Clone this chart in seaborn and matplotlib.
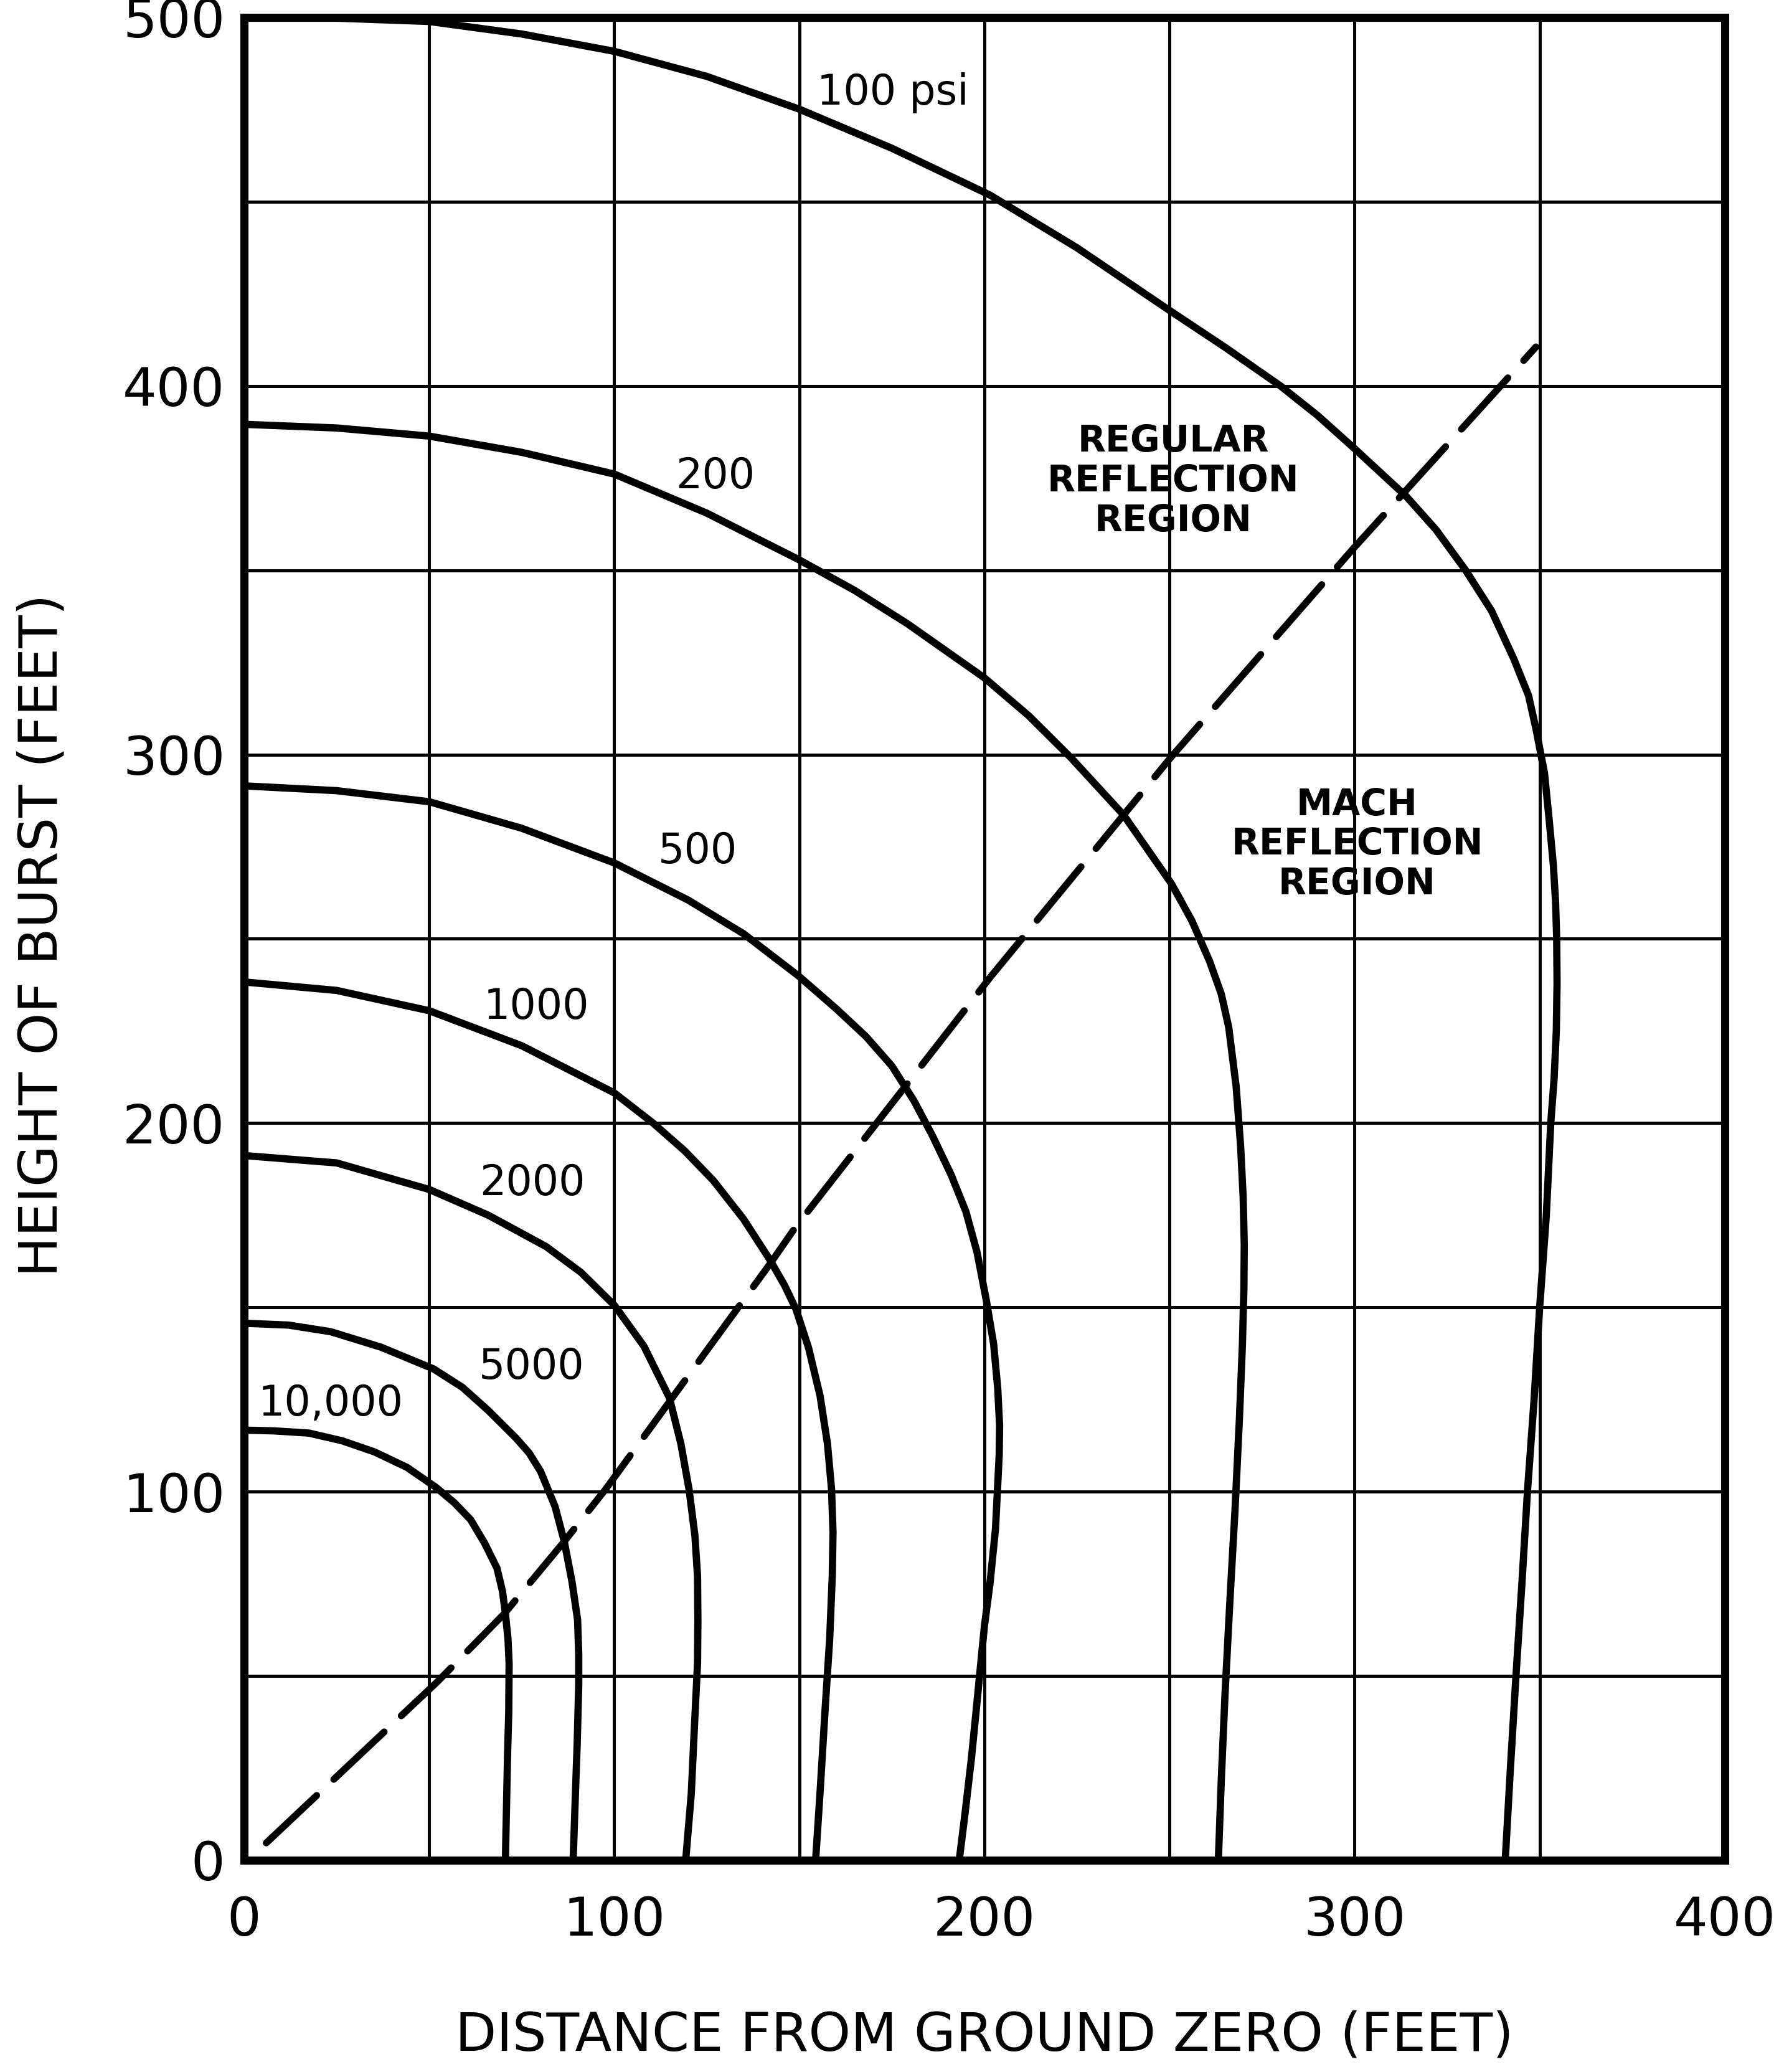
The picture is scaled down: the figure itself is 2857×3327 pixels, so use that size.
import matplotlib
matplotlib.use("Agg")
import matplotlib.pyplot as plt
import seaborn as sns
import pandas as pd

# ---- data ----
psi100_x = [0, 25, 50, 75, 100, 125, 150, 175, 201.5, 225, 250, 265, 280, 290, 300, 314, 322, 330, 337, 343, 347,
            349, 351.3, 352.5, 353.7, 354.3, 354.6, 354.7, 354.5, 353.9, 353, 351.8, 350, 348.5, 346.7, 345.2,
            343.6, 342.1, 340.7]
psi100_y = [500, 499.8, 498.9, 495.5, 490.8, 484, 475.1, 464.5, 451.8, 437.5, 420.5, 410.5, 400, 392, 383, 370, 361,
            350, 339, 326, 316, 307, 295, 283, 270, 260, 250, 238, 225, 212, 200, 175, 150, 125, 100, 75, 50, 25, 0]

psi200_x = [0, 25, 50, 75, 100, 125, 150, 165, 179.2, 200, 212, 223.5, 237.6, 250.5, 256, 260.8, 264, 266, 268, 269.2,
            269.9, 270.2, 270.1, 269.7, 268.9, 267.7, 266.3, 265, 264, 263.2]
psi200_y = [389.6, 388.6, 386.4, 382, 376.1, 365.5, 352.8, 344.5, 335.5, 320.8, 310.5, 299, 283.6, 265, 255, 244, 235,
            226, 210, 194, 180, 167, 155, 140, 120, 95, 70, 45, 22, 0]

psi500_x = [0, 25, 50, 75, 100, 120, 134.9, 149.7, 160, 168, 175, 181, 186, 191, 195, 198, 200.5,
            202.5, 203.6, 204.1, 204, 203, 201.5, 200, 198.2, 196.5, 194.8, 193.2]
psi500_y = [291.5, 290.2, 287.2, 280, 270.6, 260.5, 251.4, 240, 231, 223.5, 215.5, 206, 196.5, 186, 176, 165, 152,
            140, 128, 118, 110, 90, 75, 63.5, 45, 27.7, 13, 0]

psi1000_x = [0, 25, 50, 75, 100, 110.5, 119, 126.7, 134.9, 142, 146, 149.1, 152.5, 155.6, 157.6, 158.7, 159.1, 158.9,
             158.2, 157, 155.7, 154.4]
psi1000_y = [238.3, 236, 230.5, 221, 208.2, 200, 192.5, 184.5, 174, 163, 156, 149.5, 139, 126, 113, 100.7, 89,
             77.1, 60, 41.5, 20, 0]

psi2000_x = [0, 25, 50, 66, 81.6, 91, 100.1, 108, 114.9, 118, 120.2, 121.8, 122.5, 122.6, 122.5, 121.6, 120.8, 119.3]
psi2000_y = [191.2, 189.2, 182, 175, 166.5, 159.5, 150.5, 139.5, 125.5, 113, 100.7, 88, 77.1, 65, 53.4, 35, 17.9, 0]

psi5000_x = [0, 12, 23.4, 37, 51.2, 59, 66, 73.5, 77, 80.1, 84, 86.5, 88.6, 90.1, 90.4, 90.4, 90, 89.5, 88.9]
psi5000_y = [145.7, 145.2, 143.4, 139.2, 133.3, 128.3, 122, 114.5, 110.5, 105.5, 96, 86.5, 75.5, 65.2, 56, 47.5, 32,
             17.7, 0]

psi10000_x = [0, 8, 17.5, 26.5, 35.2, 44, 51.8, 56.8, 61.2, 65, 68.3, 69.8, 70.6, 71.3, 71.6, 71.5, 71.2, 70.9, 70.6]
psi10000_y = [116.7, 116.5, 115.9, 113.8, 110.8, 106.6, 101.2, 97, 92.4, 86, 79.3, 73, 66.9, 60, 53.3, 40, 29.5, 15, 0]

boundary_x = [6, 52.3, 70.3, 86.5, 97.7, 114.9, 142, 149, 201.6, 250.6, 299.4, 349]
boundary_y = [4.7, 48.5, 66.9, 86.5, 100.7, 124.4, 161.7, 171.8, 239.6, 299.5, 355.6, 410.6]

curve_labels = ["100 psi", "200", "500", "1000", "2000", "5000", "10,000"]
curve_label_x = [175.3, 127.3, 122.5, 79.0, 77.8, 77.7, 23.4]
curve_label_y = [479.5, 375.5, 273.8, 231.5, 183.6, 133.9, 123.8]

region_labels = ["REGULAR\nREFLECTION\nREGION", "MACH\nREFLECTION\nREGION"]
region_label_x = [251.0, 300.7]
region_label_y = [374.2, 275.6]

x_ticks = [0, 100, 200, 300, 400]
y_ticks = [0, 100, 200, 300, 400, 500]
x_title = "DISTANCE FROM GROUND ZERO (FEET)"
y_title = "HEIGHT OF BURST (FEET)"

# ---- styling ----
sns.set_theme(style="white")
plt.rcParams['font.family'] = ['DejaVu Sans']

fig = plt.figure(figsize=(2857 / 200, 3327 / 200), dpi=200)
ax = fig.add_axes([0.1372, 0.1022, 0.8323, 0.8894])

curves = [
    (psi100_x, psi100_y), (psi200_x, psi200_y), (psi500_x, psi500_y),
    (psi1000_x, psi1000_y), (psi2000_x, psi2000_y), (psi5000_x, psi5000_y),
    (psi10000_x, psi10000_y),
]
for name, (xs, ys) in zip(curve_labels, curves):
    df = pd.DataFrame({"x": xs, "y": ys})
    sns.lineplot(data=df, x="x", y="y", sort=False, estimator=None,
                 color="black", linewidth=4.2, ax=ax, clip_on=False,
                 solid_capstyle="butt", solid_joinstyle="round")

bdf = pd.DataFrame({"x": boundary_x, "y": boundary_y})
sns.lineplot(data=bdf, x="x", y="y", sort=False, estimator=None, color="black",
             linewidth=4.0, ax=ax)
ax.lines[-1].set_dashes((10, 3.4))
ax.lines[-1].set_dash_capstyle("round")

for t, x, y in zip(curve_labels, curve_label_x, curve_label_y):
    ax.text(x, y, t, ha="center", va="center", fontsize=24, color="black")

for t, x, y in zip(region_labels, region_label_x, region_label_y):
    ax.text(x, y, t, ha="center", va="center", fontsize=21, fontweight="bold",
            color="black", linespacing=1.15)

ax.set_xlim(0, 400)
ax.set_ylim(0, 500)
ax.set_xticks(x_ticks)
ax.set_xticklabels([str(v) for v in x_ticks])
ax.set_yticks(y_ticks)
ax.set_yticklabels([str(v) for v in y_ticks])
ax.set_xticks([50, 150, 250, 350], minor=True)
ax.set_yticks([50, 150, 250, 350, 450], minor=True)
ax.grid(which="both", color="black", linewidth=1.8)
ax.set_axisbelow(True)
ax.tick_params(axis="both", which="both", length=0, labelsize=31, colors="black")
ax.tick_params(axis="x", pad=20)
ax.tick_params(axis="y", pad=11)

for s in ax.spines.values():
    s.set_visible(True)
    s.set_color("black")
    s.set_linewidth(4.7)

ax.set_xlabel(x_title, fontsize=31, color="black")
ax.set_ylabel(y_title, fontsize=31, color="black")
ax.xaxis.label.set_va("center")
ax.yaxis.label.set_va("center")
ax.xaxis.set_label_coords(0.5, -0.0953)
ax.yaxis.set_label_coords(-0.1362, 0.502)

fig.savefig("out.png", dpi=200, facecolor="white")
